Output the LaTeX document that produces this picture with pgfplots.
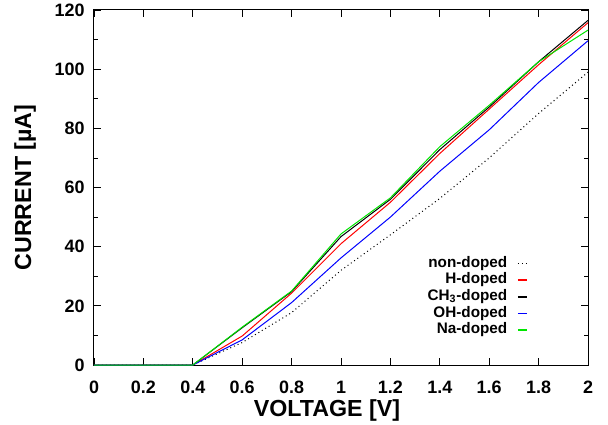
\documentclass[border=0pt]{standalone}
\usepackage{fontspec}
\setmainfont{Liberation Sans}
\usepackage{pgfplots}
\pgfplotsset{compat=1.18}
\definecolor{gpgreen}{RGB}{0,230,0}

\pgfplotstableread{
V     non   H      CH    OH    Na
0.0   0     0      0     0     0
0.2   0     0      0     0     0
0.4   0     0      0     0     0
0.6   7.6   9.8    12.6  8.5   12.8
0.8   17.7  24.3   24.8  21.1  25.0
1.0   32.0  41.0   43.4  36.2  44.3
1.2   44.0  55.0   56.0  50.0  56.5
1.4   56.3  71.5   72.8  65.5  73.8
1.6   70.0  86.5   87.2  79.5  87.8
1.8   85.0  101.5  102.5 95.5  102.5
2.0   99.0  115.7  116.5 109.6 113.2
}\ivdata

\begin{document}
\begin{tikzpicture}
\begin{axis}[
  scale only axis, width=370.5bp, height=266.25bp,
  xmin=0, xmax=2, ymin=0, ymax=120,
  xtick={0,0.2,...,2.01}, ytick={0,20,...,120},
  minor y tick num=1,
  tick align=inside, major tick length=5bp, minor tick length=3bp,
  axis line style={line width=0.75bp}, tick style={line width=0.6bp, black},
  xticklabels={0,0.2,0.4,0.6,0.8,1,1.2,1.4,1.6,1.8,2},
  ticklabel style={font=\fontsize{13.5}{15}\selectfont\bfseries},
  /pgf/number format/assume math mode=true,
  yticklabel style={xshift=-3.5bp},
  xticklabel style={yshift=-8.5bp},
  xlabel={VOLTAGE [V]}, ylabel={CURRENT [µA]},
  label style={font=\fontsize{17.5}{20}\selectfont\bfseries},
  xlabel style={at={(rel axis cs:0.5,0)}, anchor=center, yshift=-34bp, xshift=-10.5bp},
  ylabel style={at={(rel axis cs:0,0.5)}, anchor=center, yshift=51.75bp},
  legend plot pos=right,
  legend cell align=right,
  legend image code/.code={\draw[#1, line width=1.1bp] (0bp,0bp) -- (6.75bp,0bp);},
  legend style={at={(0.8785,0.31)}, anchor=north east, draw=none, fill=none,
    inner sep=0pt, column sep=7.5bp,
    font=\fontsize{11.5}{12.5}\selectfont\bfseries,
    nodes={inner sep=0pt, text height=9bp, text depth=3.5bp}},
]
\addplot[black, line width=0.75bp, dash pattern=on 0.75bp off 2.25bp] table[x=V,y=non] {\ivdata};
\addplot[red, line width=0.75bp] table[x=V,y=H] {\ivdata};
\addplot[black, line width=0.75bp] table[x=V,y=CH] {\ivdata};
\addplot[blue, line width=0.75bp] table[x=V,y=OH] {\ivdata};
\addplot[gpgreen, line width=0.75bp] table[x=V,y=Na] {\ivdata};
\legend{non-doped, H-doped, CH\textsubscript{3}-doped, OH-doped, Na-doped}
\coordinate (sw) at (rel axis cs:0,0);
\coordinate (ne) at (rel axis cs:1,1);
\end{axis}
\pgfresetboundingbox
\path ([shift={(-70.5bp,-45bp)}]sw) rectangle ([shift={(15bp,7.5bp)}]ne);
\end{tikzpicture}
\end{document}
